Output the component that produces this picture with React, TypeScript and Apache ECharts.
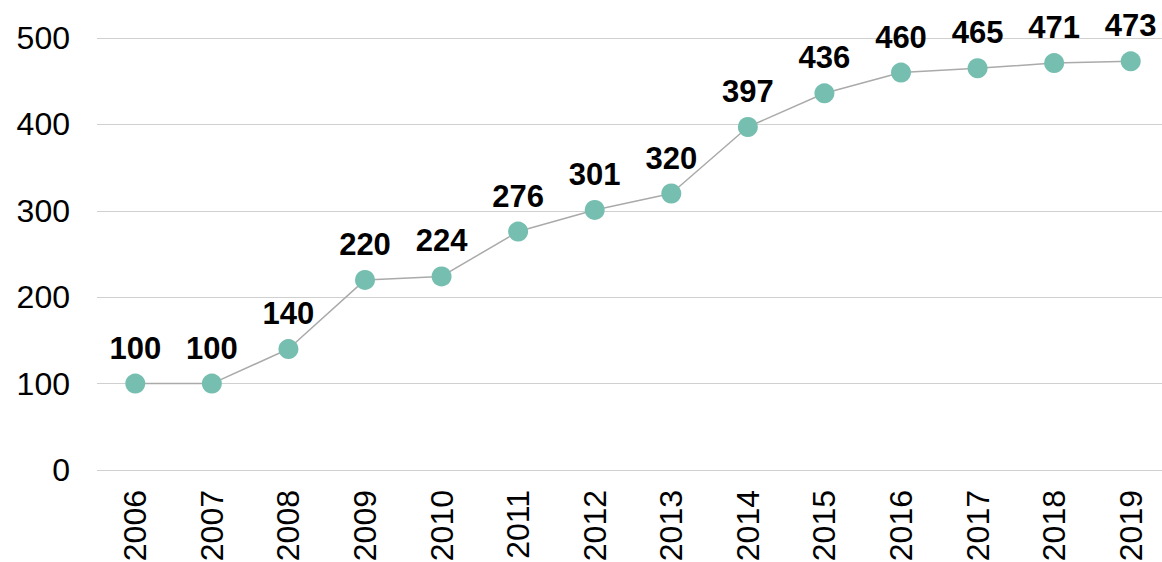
import React, { useEffect, useRef } from "react";
import * as echarts from "echarts";

const years = ["2006","2007","2008","2009","2010","2011","2012","2013","2014","2015","2016","2017","2018","2019"];
const values = [100, 100, 140, 220, 224, 276, 301, 320, 397, 436, 460, 465, 471, 473];
const yTicks = { min: 0, max: 500, interval: 100 };

export default function App() {
  const ref = useRef<HTMLDivElement>(null);
  useEffect(() => {
    if (!ref.current) return;
    const chart = echarts.init(ref.current, null, { renderer: "svg" });
    chart.setOption({
      animation: false,
      grid: { left: 97, width: 1072, top: 38, bottom: 92, outerBoundsMode: "none", containLabel: false },
      xAxis: {
        type: "category",
        data: years,
        boundaryGap: true,
        axisLine: { show: false },
        axisTick: { show: false },
        axisLabel: {
          rotate: 90,
          margin: 20,
          fontSize: 32,
          color: "#000",
          fontFamily: "Liberation Sans, Arial, sans-serif",
        },
      },
      yAxis: {
        type: "value",
        min: yTicks.min,
        max: yTicks.max,
        interval: yTicks.interval,
        axisLine: { show: false },
        axisTick: { show: false },
        splitLine: { lineStyle: { color: "#d0d0d0", width: 1 } },
        axisLabel: {
          margin: 27,
          fontSize: 32,
          color: "#000",
          fontFamily: "Liberation Sans, Arial, sans-serif",
        },
      },
      series: [
        {
          type: "line",
          data: values,
          symbol: "circle",
          symbolSize: 20,
          itemStyle: { color: "#76bfb0" },
          lineStyle: { color: "#aaaaaa", width: 1.5 },
          label: {
            show: true,
            position: "top",
            distance: 10,
            fontSize: 31,
            fontWeight: "bold",
            color: "#000",
            fontFamily: "Liberation Sans, Arial, sans-serif",
          },
        },
      ],
    });
    return () => chart.dispose();
  }, []);
  return (
    <div
      ref={ref}
      style={{ position: "fixed", left: 0, top: 0, width: 1162, height: 562, overflow: "hidden", background: "#fff" }}
    />
  );
}
